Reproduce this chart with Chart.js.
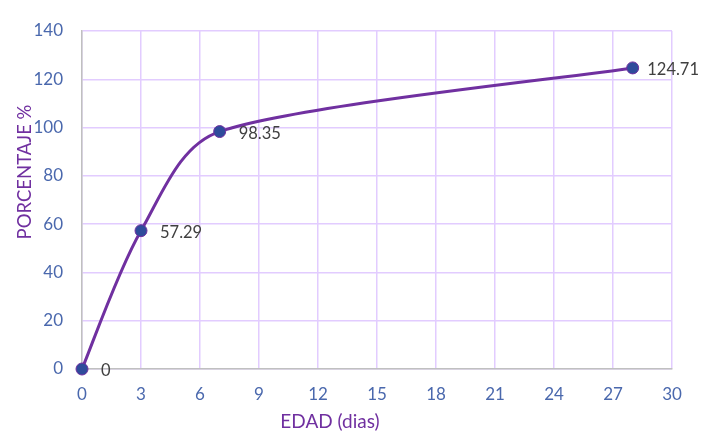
<!DOCTYPE html>
<html lang="es">
<head>
<meta charset="UTF-8" />
<title>Porcentaje vs edad</title>
<script src="https://cdn.jsdelivr.net/npm/chart.js"></script>
<style>
  html, body { margin: 0; padding: 0; background: #fff; }
  #wrap { width: 702px; height: 436px; }
</style>
</head>
<body>
<div id="wrap"><canvas id="chart" width="702" height="436"></canvas></div>
<script>
// data
const edadDias = [0, 3, 7, 28];
const porcentaje = [0, 57.29, 98.35, 124.71];
const etiquetas = ['0', '57.29', '98.35', '124.71'];

const tickColor = '#4a68ad';
const purple = '#7030a0';
const font = "Lato, 'Open Sans', sans-serif";

// spreadsheet-style smoothing: catmull-rom handles, capped at 1/3 of the segment
const smoothLine = {
  id: 'smoothLine',
  beforeDatasetDraw(chart, args) {
    const meta = args.meta;
    const pts = meta.data;
    const n = pts.length;
    for (let i = 0; i < n; i++) {
      const p = pts[i];
      const prev = pts[Math.max(i - 1, 0)];
      const next = pts[Math.min(i + 1, n - 1)];
      let tx = (next.x - prev.x) / 6;
      let ty = (next.y - prev.y) / 6;
      const tl = Math.hypot(tx, ty) || 1;
      const lenIn = Math.hypot(p.x - prev.x, p.y - prev.y) / 3;
      const lenOut = Math.hypot(next.x - p.x, next.y - p.y) / 3;
      const kIn = i > 0 ? Math.min(1, lenIn / tl) : 0;
      const kOut = i < n - 1 ? Math.min(1, lenOut / tl) : 0;
      p.cp1x = p.x - tx * kIn;
      p.cp1y = p.y - ty * kIn;
      p.cp2x = p.x + tx * kOut;
      p.cp2y = p.y + ty * kOut;
    }
    meta.dataset._pointsUpdated = true;
  }
};

// value labels next to each point + axis titles placed like the original
const extras = {
  id: 'extras',
  afterDatasetsDraw(chart) {
    const ctx = chart.ctx;
    const meta = chart.getDatasetMeta(0);
    ctx.save();
    ctx.fillStyle = '#404040';
    ctx.font = '16.5px ' + font;
    ctx.textAlign = 'left';
    ctx.textBaseline = 'middle';
    meta.data.forEach((pt, i) => {
      const w = ctx.measureText(etiquetas[i]).width;
      const x = Math.min(pt.x + 19, chart.width - w - 3);
      ctx.fillText(etiquetas[i], x, pt.y + 2);
    });
    ctx.restore();
  },
  afterDraw(chart) {
    const ctx = chart.ctx;
    ctx.save();
    ctx.fillStyle = purple;
    ctx.textAlign = 'center';
    ctx.textBaseline = 'middle';
    ctx.font = '19px ' + font;
    ctx.fillText('EDAD (dias)', 330, 422);
    ctx.translate(25, 172);
    ctx.rotate(-Math.PI / 2);
    ctx.font = '18.5px ' + font;
    ctx.fillText('PORCENTAJE %', 0, 0);
    ctx.restore();
  }
};

new Chart(document.getElementById('chart'), {
  type: 'scatter',
  data: {
    datasets: [{
      data: edadDias.map((x, i) => ({ x: x, y: porcentaje[i] })),
      showLine: true,
      clip: false,
      borderColor: purple,
      borderWidth: 3,
      tension: 0.4,
      pointRadius: 6,
      pointBackgroundColor: '#2f4b9b',
      pointBorderColor: purple,
      pointBorderWidth: 1
    }]
  },
  options: {
    responsive: false,
    animation: false,
    layout: { padding: { top: 31, right: 30, bottom: 0, left: 0 } },
    plugins: { legend: { display: false }, tooltip: { enabled: false } },
    scales: {
      x: {
        type: 'linear',
        min: 0, max: 30,
        ticks: { stepSize: 3, color: tickColor, padding: 15, font: { size: 17, family: font } },
        grid: { color: '#e2ccff', lineWidth: 1.5, drawTicks: false },
        border: { color: '#c0c0c0', width: 1.5 },
        afterFit(s) { s.height = 67; }
      },
      y: {
        min: 0, max: 140,
        ticks: { stepSize: 20, color: tickColor, padding: 19, font: { size: 17, family: font } },
        grid: { color: '#e2ccff', lineWidth: 1.5, drawTicks: false },
        border: { color: '#c0c0c0', width: 1.5 },
        afterFit(s) { s.width = 82; }
      }
    }
  },
  plugins: [smoothLine, extras]
});
</script>
</body>
</html>
